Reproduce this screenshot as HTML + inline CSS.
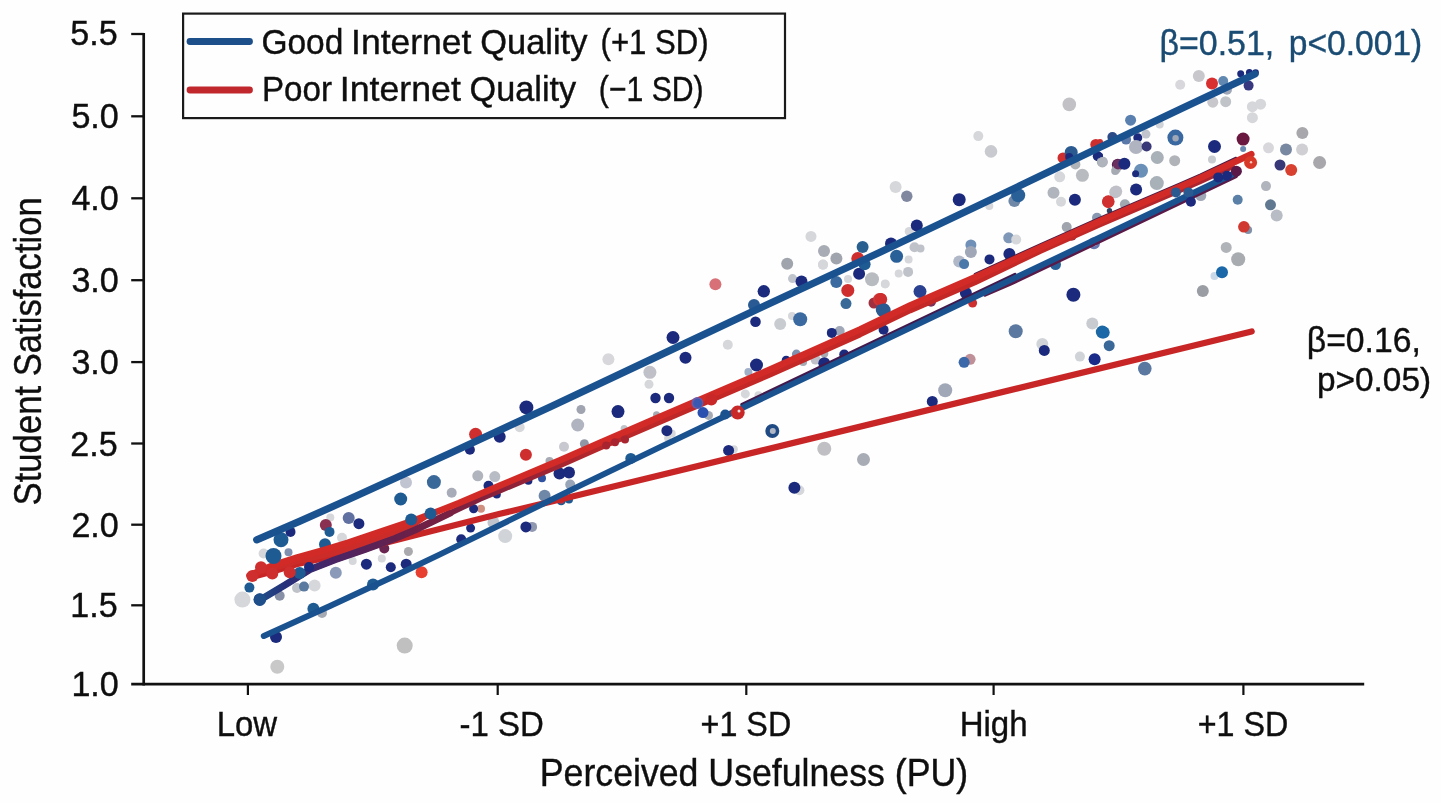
<!DOCTYPE html>
<html lang="en">
<head>
<meta charset="utf-8">
<title>Perceived Usefulness vs Student Satisfaction</title>
<style>
html,body{margin:0;padding:0;background:#fefefe;}
body{width:1441px;height:803px;overflow:hidden;font-family:"Liberation Sans",sans-serif;}
svg{display:block;filter:blur(0.45px);}
svg text{font-family:"Liberation Sans",sans-serif;stroke-width:0.4px;paint-order:stroke fill;}
</style>
</head>
<body>
<svg width="1441" height="803" viewBox="0 0 1441 803">
<rect x="0" y="0" width="1441" height="803" fill="#fefefe"/>

<g stroke="#111" fill="none" stroke-linecap="butt">
<path d="M143.7,32.9 V685.4" stroke-width="2.7"/>
<path d="M131.2,684.05 H1364.2" stroke-width="2.7"/>
<path d="M131.2,34.0 H143.7" stroke-width="2.3"/>
<path d="M131.2,116.3 H143.7" stroke-width="2.3"/>
<path d="M131.2,198.3 H143.7" stroke-width="2.3"/>
<path d="M131.2,280.2 H143.7" stroke-width="2.3"/>
<path d="M131.2,362.1 H143.7" stroke-width="2.3"/>
<path d="M131.2,443.5 H143.7" stroke-width="2.3"/>
<path d="M131.2,524.7 H143.7" stroke-width="2.3"/>
<path d="M131.2,605.3 H143.7" stroke-width="2.3"/>
<path d="M247.9,684 V695" stroke-width="2.2"/>
<path d="M497.7,684 V695" stroke-width="2.2"/>
<path d="M746.3,684 V695" stroke-width="2.2"/>
<path d="M993.6,684 V695" stroke-width="2.2"/>
<path d="M1243.4,684 V695" stroke-width="2.2"/>
</g>
<text transform="translate(70.30,45.17) scale(0.9665,1)" font-size="35.31" fill="#0e0e0e" stroke="#0e0e0e">5.5</text>
<text transform="translate(71.39,128.45) scale(0.9665,1)" font-size="35.31" fill="#0e0e0e" stroke="#0e0e0e">5.0</text>
<text transform="translate(71.39,210.45) scale(0.9665,1)" font-size="35.31" fill="#0e0e0e" stroke="#0e0e0e">4.0</text>
<text transform="translate(71.39,292.35) scale(0.9665,1)" font-size="35.31" fill="#0e0e0e" stroke="#0e0e0e">3.0</text>
<text transform="translate(71.39,374.25) scale(0.9665,1)" font-size="35.31" fill="#0e0e0e" stroke="#0e0e0e">3.0</text>
<text transform="translate(70.30,455.65) scale(0.9665,1)" font-size="35.31" fill="#0e0e0e" stroke="#0e0e0e">2.5</text>
<text transform="translate(71.39,536.85) scale(0.9665,1)" font-size="35.31" fill="#0e0e0e" stroke="#0e0e0e">2.0</text>
<text transform="translate(70.30,617.27) scale(0.9665,1)" font-size="35.31" fill="#0e0e0e" stroke="#0e0e0e">1.5</text>
<text transform="translate(71.39,696.20) scale(0.9665,1)" font-size="35.31" fill="#0e0e0e" stroke="#0e0e0e">1.0</text>
<text transform="translate(216.70,735.50) scale(0.9254,1)" font-size="35.61" fill="#0e0e0e" stroke="#0e0e0e">Low</text>
<text transform="translate(459.55,735.50) scale(0.9254,1)" font-size="35.61" fill="#0e0e0e" stroke="#0e0e0e">-1 SD</text>
<text transform="translate(700.62,735.50) scale(0.9067,1)" font-size="35.61" fill="#0e0e0e" stroke="#0e0e0e">+1 SD</text>
<text transform="translate(959.69,735.50) scale(0.9277,1)" font-size="35.61" fill="#0e0e0e" stroke="#0e0e0e">High</text>
<text transform="translate(1197.72,735.50) scale(0.9067,1)" font-size="35.61" fill="#0e0e0e" stroke="#0e0e0e">+1 SD</text>
<text transform="translate(539.77,786.30) scale(0.9406,1)" font-size="37.94" fill="#0e0e0e" stroke="#0e0e0e">Perceived Usefulness (PU)</text>
<text transform="translate(41.1,505.39) rotate(-90) scale(0.8864,1)" font-size="39.10" fill="#0e0e0e" stroke="#0e0e0e">Student Satisfaction</text>
<g id="dots">
<circle cx="242.4" cy="599.6" r="8" fill="#d6d7db"/>
<circle cx="277.3" cy="666.8" r="7" fill="#c8c8c8"/>
<circle cx="404.7" cy="645.6" r="8" fill="#c0c0c0"/>
<circle cx="322" cy="613" r="5" fill="#a6aab3"/>
<circle cx="297" cy="588" r="5" fill="#bfc2c9"/>
<circle cx="314.6" cy="585.4" r="6" fill="#d6d7db"/>
<circle cx="263.6" cy="553.5" r="5" fill="#d6d7db"/>
<circle cx="330.3" cy="517.4" r="4" fill="#d6d7db"/>
<circle cx="342" cy="537.8" r="5" fill="#d6d7db"/>
<circle cx="381.8" cy="558.5" r="4" fill="#d6d7db"/>
<circle cx="352.7" cy="561" r="4" fill="#d6d7db"/>
<circle cx="408.4" cy="551.5" r="4.5" fill="#aaaaae"/>
<circle cx="279.7" cy="595.8" r="5" fill="#8890a8"/>
<circle cx="288.5" cy="552.3" r="4" fill="#8090b0"/>
<circle cx="335.8" cy="572.7" r="6" fill="#8a9ab8"/>
<circle cx="304" cy="586.6" r="5" fill="#5a7aa0"/>
<circle cx="348.7" cy="517.9" r="6" fill="#6070a0"/>
<circle cx="276" cy="637" r="6" fill="#1b2a7c"/>
<circle cx="313.4" cy="608.8" r="6" fill="#1f5b93"/>
<circle cx="373" cy="584.6" r="6" fill="#1f5b93"/>
<circle cx="366.4" cy="564.2" r="5.5" fill="#1b2a7c"/>
<circle cx="390.8" cy="567.2" r="5" fill="#1b2a7c"/>
<circle cx="406.2" cy="564.2" r="5.5" fill="#1b2a7c"/>
<circle cx="421.6" cy="572.2" r="6" fill="#e84030"/>
<circle cx="259.8" cy="599.6" r="6" fill="#1b2a7c"/>
<circle cx="249.4" cy="587.6" r="5" fill="#1f5b93"/>
<circle cx="281" cy="539.8" r="7.5" fill="#1f5b93"/>
<circle cx="290.5" cy="531.9" r="5" fill="#1b2a7c"/>
<circle cx="325.8" cy="524.9" r="6" fill="#8a3050"/>
<circle cx="329.5" cy="531.9" r="5" fill="#1f5b93"/>
<circle cx="325" cy="544.3" r="6" fill="#1f5b93"/>
<circle cx="358.9" cy="523.7" r="5.5" fill="#1b2a7c"/>
<circle cx="400.7" cy="499" r="6.5" fill="#1f5b93"/>
<circle cx="384.3" cy="548.5" r="5" fill="#6a2450"/>
<circle cx="406" cy="482.6" r="6" fill="#c0c4d0"/>
<circle cx="433.9" cy="482.1" r="7" fill="#3a6898"/>
<circle cx="519.7" cy="427.3" r="5" fill="#d6d7db"/>
<circle cx="581" cy="409.5" r="4.5" fill="#a0a4b0"/>
<circle cx="577.7" cy="425" r="6.5" fill="#b0b4c0"/>
<circle cx="649" cy="384.3" r="4.5" fill="#d6d7db"/>
<circle cx="671.7" cy="433.4" r="4" fill="#d6d7db"/>
<circle cx="667.6" cy="438.3" r="3.5" fill="#d6d7db"/>
<circle cx="564" cy="446.7" r="5" fill="#c8c8d0"/>
<circle cx="584.4" cy="443.7" r="4.5" fill="#9098a8"/>
<circle cx="549.5" cy="460.9" r="4" fill="#a6aab3"/>
<circle cx="570.2" cy="484.6" r="5" fill="#98a4b8"/>
<circle cx="544.6" cy="495.8" r="6" fill="#7088a8"/>
<circle cx="477.8" cy="475.8" r="5.5" fill="#b0b4bc"/>
<circle cx="494.8" cy="476.6" r="5.5" fill="#b8bcc4"/>
<circle cx="451.7" cy="492.8" r="5" fill="#a8acb8"/>
<circle cx="481" cy="508.7" r="4" fill="#d09080"/>
<circle cx="493.5" cy="522.4" r="6" fill="#c0c4cc"/>
<circle cx="532.1" cy="526.9" r="5" fill="#9098b0"/>
<circle cx="505.2" cy="536.1" r="7" fill="#d0d4d8"/>
<circle cx="656.5" cy="414.7" r="3.5" fill="#a6aab3"/>
<circle cx="624.1" cy="428.6" r="3.5" fill="#bfc2c9"/>
<circle cx="526.4" cy="407.4" r="7" fill="#1b2a7c"/>
<circle cx="475.6" cy="434.3" r="6.5" fill="#cf2e2e"/>
<circle cx="499.7" cy="436.8" r="6" fill="#1b2a7c"/>
<circle cx="469.9" cy="449.7" r="5" fill="#1b2a7c"/>
<circle cx="525.9" cy="454.7" r="6" fill="#cf2e2e"/>
<circle cx="618" cy="411.6" r="6.5" fill="#1b2a7c"/>
<circle cx="655.5" cy="398" r="5.2" fill="#1b2a7c"/>
<circle cx="669" cy="398" r="5.2" fill="#1b2a7c"/>
<circle cx="666.9" cy="430.7" r="5.5" fill="#1b2a7c"/>
<circle cx="559.5" cy="473.4" r="6" fill="#1b2a7c"/>
<circle cx="569" cy="472.6" r="6" fill="#1b2a7c"/>
<circle cx="561.2" cy="500.7" r="4.6" fill="#1f5b93"/>
<circle cx="561.2" cy="500.7" r="3" fill="#c03040"/>
<circle cx="569" cy="499.5" r="4" fill="#1f5b93"/>
<circle cx="630.8" cy="458.4" r="5.5" fill="#1f5b93"/>
<circle cx="488.5" cy="485.8" r="5" fill="#1b2a7c"/>
<circle cx="496.8" cy="494.5" r="4" fill="#1b2a7c"/>
<circle cx="473.6" cy="508.7" r="4.5" fill="#1b2a7c"/>
<circle cx="470.6" cy="528.1" r="4.5" fill="#1b2a7c"/>
<circle cx="525.9" cy="526.9" r="5.5" fill="#1b2a7c"/>
<circle cx="461.2" cy="539.3" r="5" fill="#1b2a7c"/>
<circle cx="542" cy="478.3" r="4" fill="#3050a0"/>
<circle cx="528.4" cy="480.8" r="4" fill="#1b2a7c"/>
<circle cx="715.4" cy="284.2" r="6" fill="#d87078"/>
<circle cx="608.4" cy="359.3" r="6" fill="#d8d8dc"/>
<circle cx="649.9" cy="372.3" r="6.5" fill="#c0c0c8"/>
<circle cx="727.8" cy="344.8" r="5" fill="#d6d7db"/>
<circle cx="673" cy="337.5" r="6.5" fill="#1b2a7c"/>
<circle cx="685.5" cy="357.7" r="6" fill="#1b2a7c"/>
<circle cx="755.5" cy="321.8" r="5.3" fill="#1b2a7c"/>
<circle cx="754" cy="305" r="6" fill="#2a5a94"/>
<circle cx="763.8" cy="291.3" r="6.2" fill="#1b2a7c"/>
<circle cx="756.5" cy="365" r="6.5" fill="#1b2a7c"/>
<circle cx="787.2" cy="263.8" r="6" fill="#a0a4ac"/>
<circle cx="823" cy="264.6" r="5" fill="#d6d7db"/>
<circle cx="792.5" cy="278.6" r="4.5" fill="#c0c4cc"/>
<circle cx="780.2" cy="324" r="6" fill="#c8ccd0"/>
<circle cx="792" cy="316" r="4" fill="#d6d7db"/>
<circle cx="748.4" cy="372" r="4" fill="#a0b0c8"/>
<circle cx="796.4" cy="354.1" r="4.5" fill="#8090b0"/>
<circle cx="803.1" cy="362.1" r="4" fill="#a6aab3"/>
<circle cx="839.7" cy="331" r="5" fill="#a0a8b8"/>
<circle cx="815.6" cy="359.6" r="5" fill="#c0c0c8"/>
<circle cx="824.3" cy="353.4" r="4" fill="#a6aab3"/>
<circle cx="872" cy="279.3" r="7" fill="#b8bcc0"/>
<circle cx="885.3" cy="283.9" r="4.5" fill="#d6d7db"/>
<circle cx="848" cy="279" r="4" fill="#d6d7db"/>
<circle cx="836.4" cy="258.5" r="6" fill="#a0a4ac"/>
<circle cx="745.3" cy="393.9" r="4.5" fill="#d6d7db"/>
<circle cx="758.5" cy="395.3" r="4" fill="#d6d7db"/>
<circle cx="733.8" cy="449.2" r="4" fill="#d6d7db"/>
<circle cx="708.5" cy="415.4" r="4.5" fill="#a6aab3"/>
<circle cx="799.4" cy="490.2" r="5" fill="#d6d7db"/>
<circle cx="824.3" cy="448.8" r="7" fill="#c0c0c4"/>
<circle cx="863.5" cy="459.5" r="6.5" fill="#a8acb4"/>
<circle cx="801.5" cy="281.5" r="6" fill="#1b2a7c"/>
<circle cx="800.2" cy="319.2" r="7" fill="#3a6aa0"/>
<circle cx="786.2" cy="360.3" r="4.5" fill="#1b2a7c"/>
<circle cx="794.4" cy="358.3" r="3" fill="#cf2e2e"/>
<circle cx="831.8" cy="332.9" r="5" fill="#1b2a7c"/>
<circle cx="824.3" cy="363.3" r="6" fill="#1b2a7c"/>
<circle cx="844.2" cy="354.6" r="5" fill="#1b2a7c"/>
<circle cx="836.3" cy="282" r="6" fill="#3a6aa0"/>
<circle cx="847.8" cy="290.4" r="6.5" fill="#cf2e2e"/>
<circle cx="846" cy="303.6" r="5.5" fill="#3a6a98"/>
<circle cx="859.1" cy="273.7" r="6" fill="#1b2a7c"/>
<circle cx="874" cy="303" r="5.5" fill="#a03040"/>
<circle cx="879.5" cy="299.5" r="6.5" fill="#d03838"/>
<circle cx="882.8" cy="309.8" r="7" fill="#2a5a90"/>
<circle cx="883.6" cy="329.8" r="5" fill="#1b2a7c"/>
<circle cx="725.2" cy="414.5" r="5" fill="#1a5290"/>
<circle cx="772.3" cy="431" r="7" fill="#1f4a84"/>
<circle cx="772.8" cy="431" r="3" fill="#b0b8c8"/>
<circle cx="728.6" cy="450.4" r="5.5" fill="#1b2a7c"/>
<circle cx="794.4" cy="487.7" r="6" fill="#1b2a7c"/>
<circle cx="978.3" cy="136.1" r="5" fill="#d6d7db"/>
<circle cx="991" cy="151.4" r="6.3" fill="#c8cacf"/>
<circle cx="895.6" cy="187" r="6" fill="#d6d7db"/>
<circle cx="906.8" cy="196.2" r="5.7" fill="#8088a0"/>
<circle cx="909.2" cy="231.4" r="4.5" fill="#d6d7db"/>
<circle cx="914.5" cy="247.2" r="5" fill="#bfc2c9"/>
<circle cx="920.5" cy="248.5" r="4" fill="#bfc2c9"/>
<circle cx="908.6" cy="259.6" r="4" fill="#d6d7db"/>
<circle cx="908.1" cy="271.9" r="5" fill="#bfc2c9"/>
<circle cx="898.7" cy="273.6" r="4" fill="#d6d7db"/>
<circle cx="885.1" cy="284.1" r="4" fill="#d6d7db"/>
<circle cx="811" cy="236.4" r="5.5" fill="#d6d7db"/>
<circle cx="824" cy="251.1" r="6" fill="#a8acb4"/>
<circle cx="823" cy="264.8" r="5" fill="#d6d7db"/>
<circle cx="959.2" cy="199.7" r="6.5" fill="#1b2a7c"/>
<circle cx="916.8" cy="225.6" r="6" fill="#1b2a7c"/>
<circle cx="891" cy="243.6" r="6" fill="#1b2a7c"/>
<circle cx="896.6" cy="256.3" r="6.5" fill="#2a6098"/>
<circle cx="862.6" cy="246.9" r="6" fill="#2a6090"/>
<circle cx="857.8" cy="258.6" r="6.5" fill="#cf2e2e"/>
<circle cx="864.6" cy="264.3" r="6" fill="#1f5b93"/>
<circle cx="880.9" cy="298.5" r="5.5" fill="#cf2e2e"/>
<circle cx="920" cy="291.5" r="6.5" fill="#2a4090"/>
<circle cx="885" cy="283.9" r="4" fill="#d6d7db"/>
<circle cx="970.9" cy="245" r="5.5" fill="#7090b8"/>
<circle cx="970.9" cy="252" r="6" fill="#a0a8b8"/>
<circle cx="959.2" cy="261.6" r="6" fill="#b0b8c8"/>
<circle cx="964.1" cy="264.1" r="5" fill="#4a78a8"/>
<circle cx="989.5" cy="259.4" r="5" fill="#1b2a7c"/>
<circle cx="1009.4" cy="254" r="6" fill="#1b2a7c"/>
<circle cx="1008.7" cy="237.8" r="5.5" fill="#8098b8"/>
<circle cx="1016.2" cy="239.6" r="5" fill="#d6d7db"/>
<circle cx="989.3" cy="205.9" r="4" fill="#d6d7db"/>
<circle cx="1014.4" cy="201" r="6" fill="#7088a8"/>
<circle cx="1018.2" cy="195.3" r="7" fill="#2a6098"/>
<circle cx="1053.5" cy="192.8" r="6" fill="#b0b4bc"/>
<circle cx="1061" cy="201.7" r="5" fill="#d6d7db"/>
<circle cx="1074.9" cy="199.7" r="6" fill="#1b2a7c"/>
<circle cx="1059.7" cy="176.8" r="5.5" fill="#d6d7db"/>
<circle cx="1082.4" cy="175.3" r="6.5" fill="#b8bcc0"/>
<circle cx="1075.4" cy="164.4" r="5" fill="#b0b4b8"/>
<circle cx="1063" cy="157.9" r="5.5" fill="#cf2e2e"/>
<circle cx="1071.2" cy="152.4" r="6.5" fill="#2a5a90"/>
<circle cx="1069.2" cy="156.9" r="4" fill="#1b2a7c"/>
<circle cx="1095.8" cy="144.5" r="5.5" fill="#cf2e2e"/>
<circle cx="1097.8" cy="156.2" r="5" fill="#1b2a7c"/>
<circle cx="1102.3" cy="161.9" r="5.5" fill="#a8acb4"/>
<circle cx="1115.2" cy="171.1" r="4" fill="#a6aab3"/>
<circle cx="1117.8" cy="164.7" r="6" fill="#5a2050"/>
<circle cx="1115.2" cy="192.3" r="6" fill="#c0c0c8"/>
<circle cx="1108.3" cy="201.6" r="6.3" fill="#d03030"/>
<circle cx="1109.5" cy="210.8" r="2.7" fill="#304060"/>
<circle cx="1097" cy="217.7" r="5" fill="#8898b0"/>
<circle cx="1066.7" cy="227.1" r="5" fill="#a0a4ac"/>
<circle cx="1071.7" cy="235.8" r="5" fill="#a02a3a"/>
<circle cx="1094" cy="243.3" r="6" fill="#6878b0"/>
<circle cx="1094" cy="243.3" r="3" fill="#c0c4d8"/>
<circle cx="1055.5" cy="264.5" r="5.5" fill="#2a6098"/>
<circle cx="1073.4" cy="294.8" r="7" fill="#1b2a7c"/>
<circle cx="1092.3" cy="323.6" r="6" fill="#c8ccd0"/>
<circle cx="1102.3" cy="332" r="6.5" fill="#1f68a0"/>
<circle cx="1015.7" cy="331.2" r="7" fill="#5a78a0"/>
<circle cx="881.2" cy="299.3" r="6" fill="#cf2e2e"/>
<circle cx="883.7" cy="310.5" r="7" fill="#2a5a90"/>
<circle cx="931" cy="301.8" r="5" fill="#7a3058"/>
<circle cx="965.9" cy="293.1" r="6" fill="#1b2a7c"/>
<circle cx="972.6" cy="303" r="4.5" fill="#cf2e2e"/>
<circle cx="1069.3" cy="104.4" r="6.8" fill="#c2c2c6"/>
<circle cx="1198.8" cy="76.1" r="6" fill="#c8c8cc"/>
<circle cx="1180.2" cy="84.8" r="5" fill="#d8d8dc"/>
<circle cx="1212" cy="83.6" r="6" fill="#d83030"/>
<circle cx="1223.2" cy="81.1" r="5" fill="#6088b0"/>
<circle cx="1240.7" cy="73.8" r="3.5" fill="#1b2a7c"/>
<circle cx="1249.4" cy="72.6" r="3.5" fill="#1b2a7c"/>
<circle cx="1255.6" cy="72.6" r="3.3" fill="#1b2a7c"/>
<circle cx="1248.6" cy="85.6" r="5" fill="#383880"/>
<circle cx="1212.8" cy="102.2" r="5.5" fill="#c8c8cc"/>
<circle cx="1225.7" cy="101.7" r="5.5" fill="#c0c4c8"/>
<circle cx="1227" cy="89.8" r="5" fill="#a0a8b8"/>
<circle cx="1252.4" cy="106.7" r="5.5" fill="#d6d7db"/>
<circle cx="1260.6" cy="104.2" r="5.5" fill="#d6d7db"/>
<circle cx="1252.4" cy="117.7" r="5.5" fill="#d6d7db"/>
<circle cx="1130.6" cy="120.2" r="5.5" fill="#5a80b0"/>
<circle cx="1159.7" cy="124.6" r="4" fill="#d0d4d8"/>
<circle cx="1175.4" cy="137.6" r="8" fill="#3a68a0"/>
<circle cx="1175.6" cy="138.2" r="3.2" fill="#a0a8b8"/>
<circle cx="1137.8" cy="137.8" r="4.5" fill="#1b2a7c"/>
<circle cx="1126.1" cy="139.6" r="5" fill="#5a78a8"/>
<circle cx="1112.4" cy="137.1" r="5" fill="#2a4a88"/>
<circle cx="1100" cy="142" r="3" fill="#cf2e2e"/>
<circle cx="1146" cy="134.1" r="4.5" fill="#c0c4cc"/>
<circle cx="1136" cy="147" r="7" fill="#b0b4c0"/>
<circle cx="1146.6" cy="146.5" r="5" fill="#383878"/>
<circle cx="1100" cy="155.8" r="3" fill="#1b2a7c"/>
<circle cx="1102.5" cy="162" r="5" fill="#b0b4bc"/>
<circle cx="1157.3" cy="157.5" r="6.5" fill="#a8b0b8"/>
<circle cx="1174.7" cy="160.7" r="5.5" fill="#b0b4b8"/>
<circle cx="1116.2" cy="169.4" r="4.5" fill="#a6aab3"/>
<circle cx="1118" cy="164.5" r="5" fill="#6a3060"/>
<circle cx="1124.4" cy="163.7" r="6" fill="#1b2a7c"/>
<circle cx="1141" cy="170.7" r="7" fill="#6a90b8"/>
<circle cx="1135.6" cy="173.7" r="3.5" fill="#1b2a7c"/>
<circle cx="1214.5" cy="146.5" r="6.5" fill="#1b2a7c"/>
<circle cx="1212" cy="159.5" r="4" fill="#c8ccd0"/>
<circle cx="1243.1" cy="139.1" r="6.5" fill="#6a1840"/>
<circle cx="1243.1" cy="149" r="3" fill="#6a88b0"/>
<circle cx="1156.8" cy="183.1" r="7" fill="#a8b0b8"/>
<circle cx="1136.1" cy="189.4" r="6" fill="#1b2a7c"/>
<circle cx="1116.2" cy="191.4" r="6" fill="#c0c0c8"/>
<circle cx="1124.9" cy="204.3" r="5" fill="#a0a8b0"/>
<circle cx="1200.8" cy="195.6" r="5.5" fill="#a0a8b8"/>
<circle cx="1302.4" cy="132.9" r="6" fill="#a8a8ac"/>
<circle cx="1268.5" cy="147.8" r="5.5" fill="#d8d8dc"/>
<circle cx="1286" cy="149.5" r="6" fill="#7888a0"/>
<circle cx="1302.1" cy="149.5" r="6" fill="#d0d0d4"/>
<circle cx="1319.6" cy="162.5" r="6.5" fill="#a8a8ac"/>
<circle cx="1280" cy="165" r="5.5" fill="#383878"/>
<circle cx="1291.2" cy="170" r="6" fill="#d84030"/>
<circle cx="1266" cy="186.1" r="5" fill="#b0b4bc"/>
<circle cx="1237.7" cy="199.8" r="5" fill="#5a80a8"/>
<circle cx="1270.5" cy="204.8" r="5.5" fill="#607890"/>
<circle cx="1276.7" cy="215.5" r="6" fill="#b8bcc4"/>
<circle cx="1248.1" cy="230" r="4" fill="#8090a8"/>
<circle cx="1243.9" cy="226.8" r="5.8" fill="#d03830"/>
<circle cx="1226.2" cy="247.4" r="5.5" fill="#b0b4b8"/>
<circle cx="1238.2" cy="259.3" r="7" fill="#a8acb0"/>
<circle cx="1214.5" cy="276" r="4" fill="#c8d8e8"/>
<circle cx="1222" cy="272.3" r="6" fill="#1a68a8"/>
<circle cx="1202.8" cy="291" r="6" fill="#9a9ea4"/>
<circle cx="1103.7" cy="332.5" r="6" fill="#1a68a8"/>
<circle cx="1109.2" cy="345.7" r="5.5" fill="#3a6898"/>
<circle cx="1144.8" cy="368.6" r="6.8" fill="#5a78a0"/>
<circle cx="1042.3" cy="344.1" r="6" fill="#d0d4d8"/>
<circle cx="1044.3" cy="350.4" r="5.5" fill="#1b2a7c"/>
<circle cx="1079.9" cy="356.6" r="5" fill="#d0d4d8"/>
<circle cx="1094.6" cy="359.3" r="6" fill="#1a2a88"/>
<circle cx="970.1" cy="359.3" r="5.5" fill="#c09098"/>
<circle cx="964.1" cy="362.3" r="5.5" fill="#3a68a8"/>
<circle cx="945.2" cy="390.2" r="7" fill="#a0a8b8"/>
<circle cx="932.3" cy="401.4" r="5.5" fill="#1b2a7c"/>
</g>
<defs><linearGradient id="gE" gradientUnits="userSpaceOnUse" x1="257" y1="0" x2="1215" y2="0"><stop offset="0" stop-color="#1f4f8a"/><stop offset="0.03" stop-color="#26307a"/><stop offset="0.08" stop-color="#4a2464"/><stop offset="0.16" stop-color="#6b2048"/><stop offset="0.27" stop-color="#8f2238"/><stop offset="0.36" stop-color="#b8282a"/><stop offset="0.5" stop-color="#c42826"/><stop offset="0.85" stop-color="#c42826"/><stop offset="1" stop-color="#a82430"/></linearGradient></defs>
<g fill="none" stroke-linecap="round" stroke-linejoin="round">
<path d="M742,404.53667999999993 L1015,274.4248799999999" stroke="#42194c" stroke-width="3.4"/>
<path d="M985,294.7228799999999 L1010,284.10787999999997 L1236,176.39627999999993" stroke="#5a1a48" stroke-width="3.8"/>
<path d="M250,577.5 L272.5,571.5 L297.5,564 L322.5,558.5 L347.5,552.5 L415,535.3 L500,513.8 L560,499.6 L1251.7,331.5" stroke="#c82626" stroke-width="6.2"/>
<path d="M263.8,635.95 L330,605.90 L400,573.53 L440,554.37 L500,524.97 L580,485.65 L660,447.12 L1232,174.50" stroke="#1a5290" stroke-width="6.0"/>
<path d="M256.7,539.83 L300,521.13 L350,498.79 L450,453.22 L550,406.95 L650,359.88 L760,307.94 L880,252.34 L1000,195.34 L1100,147.27 L1180,109.23 L1255.0,73.93" stroke="#1a5290" stroke-width="7.2"/>
<path d="M249.5,575.5 L255,573 L272.5,565.5 L297.5,557.5 L322.5,550.5 L347.5,543 L380,532 L415,520 L432,515.5 L415,527 L395,536 L380,542.5 L347.5,552.5 L322.5,558.5 L297.5,564 L272.5,571.5 L250,577.5 Z" fill="#cc2c29" stroke="none"/>
<path d="M259.5,600.3 L285,585 L310,569.5 L335,559.7 L365,549.4 L395,538.5 L415,530 L450,513.2 L480,498.8 L500,490.5 L560,465.3 L600,447.7 L660,421.8 L770,374.5 L860,334.5 L910,310.5 L975,282.3 L1040,251.20000000000002 L1100,224.4 L1180,190.20000000000002 L1200,181.4 L1232,166.6" stroke="url(#gE)" stroke-width="5.8"/>
<path d="M259.5,600.3 L285,585 L310,569.5 L335,559.7 L365,549.4 L395,538.5 L415,530 L450,513.2" stroke="url(#gE)" stroke-width="7"/>
<path d="M975,274.2 L1040,244.70000000000002 L1100,217.9 L1180,183.70000000000002 L1200,174.9 L1236,158" stroke="#4a1a44" stroke-width="2.6"/>
<path d="M249.5,575.5 L255,573 L272.5,565.5 L297.5,557.5 L322.5,550.5 L347.5,543 L380,532 L415,520 L440,510.5 L459,503 L500,485.5 L560,460.3 L600,442.7 L660,416.8 L770,369.5 L860,329.5 L910,305.5 L975,277.3 L1040,247.8 L1100,221 L1180,186.8 L1200,178 L1251.3,154.2" stroke="#d22b27" stroke-width="6.6"/>
</g>
<g id="topdots">
<circle cx="273.5" cy="556" r="8" fill="#1f5b93"/>
<circle cx="299.7" cy="573" r="6" fill="#1f5b93"/>
<circle cx="309" cy="567" r="5" fill="#1b2a7c"/>
<circle cx="259.8" cy="599.6" r="6.3" fill="#1f4f8a"/>
<circle cx="697.4" cy="402.9" r="6" fill="#6a5aa8"/>
<circle cx="697.8" cy="403.2" r="4.5" fill="#3a58b0"/>
<circle cx="711.3" cy="399.4" r="6" fill="#c82828"/>
<circle cx="703" cy="412.6" r="5.5" fill="#2a50b0"/>
<circle cx="737.7" cy="412.6" r="7" fill="#c82828"/>
<circle cx="739" cy="411" r="1.5" fill="#f4e0e0"/>
<circle cx="411.2" cy="519.4" r="6" fill="#1f5b93"/>
<circle cx="430.6" cy="513.5" r="6" fill="#1f5b93"/>
<circle cx="252.4" cy="576" r="6" fill="#cf2e2e"/>
<circle cx="261" cy="567.2" r="6" fill="#cf2e2e"/>
<circle cx="272.3" cy="573.4" r="6" fill="#cf2e2e"/>
<circle cx="289.7" cy="572.2" r="6" fill="#cf2e2e"/>
<circle cx="1250.6" cy="162.5" r="6.5" fill="#d83828"/>
<circle cx="1251" cy="162.3" r="1.2" fill="#f0c8c0"/>
<circle cx="1236.4" cy="171.2" r="5.5" fill="#5a1848"/>
<circle cx="1218.2" cy="177.4" r="5" fill="#1b2a7c"/>
<circle cx="1227" cy="175.7" r="5" fill="#1b2a7c"/>
<circle cx="1175.9" cy="192.4" r="5" fill="#2a5a90"/>
<circle cx="1188.4" cy="192.4" r="5" fill="#2a5a90"/>
<circle cx="1190.9" cy="201.8" r="5" fill="#1b2a7c"/>
<circle cx="1108.2" cy="201.8" r="6" fill="#d03030"/>
<circle cx="606.2" cy="445.6" r="4" fill="#a8242e"/>
<circle cx="615" cy="442.3" r="4" fill="#a8242e"/>
<circle cx="625" cy="439.6" r="4" fill="#a8242e"/>
</g>
<rect x="183.1" y="13.6" width="601.9" height="104.5" fill="#fefefe" stroke="#1a1a1a" stroke-width="2.2"/>
<path d="M190,41.5 H249.5" stroke="#1d4f8b" stroke-width="6.8" stroke-linecap="round"/>
<path d="M190,90 H249.5" stroke="#c0282e" stroke-width="6.8" stroke-linecap="round"/>
<text transform="translate(261.43,54.00) scale(0.9601,1)" font-size="34.88" fill="#0e0e0e" stroke="#0e0e0e">Good</text>
<text transform="translate(351.03,54.00) scale(1.0180,1)" font-size="34.88" fill="#0e0e0e" stroke="#0e0e0e">Internet</text>
<text transform="translate(480.18,54.00) scale(0.9883,1)" font-size="34.88" fill="#0e0e0e" stroke="#0e0e0e">Quality</text>
<text transform="translate(600.57,54.00) scale(0.8928,1)" font-size="34.88" fill="#0e0e0e" stroke="#0e0e0e">(+1 SD)</text>
<text transform="translate(261.98,101.40) scale(0.9538,1)" font-size="34.74" fill="#0e0e0e" stroke="#0e0e0e">Poor</text>
<text transform="translate(339.82,101.40) scale(1.0275,1)" font-size="34.74" fill="#0e0e0e" stroke="#0e0e0e">Internet</text>
<text transform="translate(469.59,101.40) scale(0.9868,1)" font-size="34.74" fill="#0e0e0e" stroke="#0e0e0e">Quality</text>
<text transform="translate(598.73,101.40) scale(0.8699,1)" font-size="34.74" fill="#0e0e0e" stroke="#0e0e0e">(−1 SD)</text>
<text transform="translate(1159.56,55.00) scale(0.9860,1)" font-size="34.38" fill="#1a4b73" stroke="#1a4b73">β=0.51,</text>
<text transform="translate(1288.85,55.00) scale(0.9767,1)" font-size="34.38" fill="#1a4b73" stroke="#1a4b73">p&lt;0.001)</text>
<text transform="translate(1306.77,351.50) scale(0.9806,1)" font-size="34.38" fill="#0e0e0e" stroke="#0e0e0e">β=0.16,</text>
<text transform="translate(1316.96,391.20) scale(0.9788,1)" font-size="34.10" fill="#0e0e0e" stroke="#0e0e0e">p&gt;0.05)</text>
</svg>
</body>
</html>
